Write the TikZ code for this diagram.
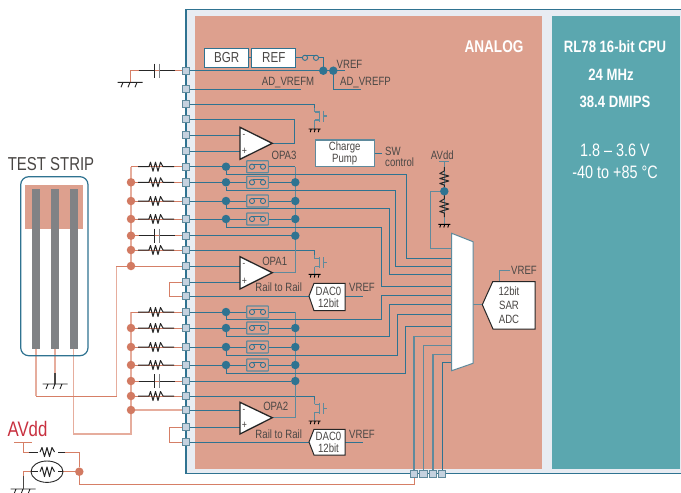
\documentclass[tikz,border=0pt]{standalone}
\usepackage{fontspec}
\setmainfont[FakeStretch=0.8]{Liberation Sans}
\pgfdeclarelayer{bg}\pgfdeclarelayer{wires}
\pgfsetlayers{bg,wires,main}
\definecolor{teal}{HTML}{2F7391}
\definecolor{grayteal}{HTML}{5F8A9C}
\definecolor{analog}{HTML}{DDA08E}
\definecolor{cpu}{HTML}{5BA7AF}
\definecolor{band}{HTML}{E8ECF2}
\definecolor{pinfill}{HTML}{C5D2DF}
\definecolor{redw}{HTML}{D67F66}
\definecolor{redp}{HTML}{E6AD9D}
\definecolor{junc}{HTML}{D27A62}
\definecolor{txt}{HTML}{4A4745}
\definecolor{avdd}{HTML}{C8303F}
\definecolor{bargray}{HTML}{808285}
\newcommand{\fs}[1]{\fontsize{#1}{#1}\selectfont}
\tikzset{
  wire/.style={draw=teal,line width=0.9pt},
  gwire/.style={draw=grayteal,line width=1.1pt},
  rwire/.style={draw=redw,line width=0.9pt},
  pwire/.style={draw=redp,line width=1.3pt},
  pinbox/.style={rectangle,draw=grayteal,fill=pinfill,line width=0.9pt,minimum size=7.5pt,inner sep=0pt},
  jteal/.style={circle,fill=teal,minimum size=8.5pt,inner sep=0pt},
  jred/.style={circle,fill=junc,minimum size=8.5pt,inner sep=0pt},
  lab/.style={text=txt,font=\fs{12},inner sep=0pt},
  labw/.style={text=white,font=\fs{16.4}\bfseries,inner sep=0pt},
  labn/.style={text=white,font=\fs{18},inner sep=0pt},
  whitebox/.style={rectangle,draw=teal,fill=white,line width=1pt,inner sep=0pt},
  part/.style={draw=black!85,line width=1pt,line join=round},
  resH/.pic={\draw[part] (-18,0)--(-7,0)--(-5.5,-4.5)--(-3,4.5)--(-.5,-4.5)--(2,4.5)--(4.5,-4.5)--(7,0)--(18,0);},
  resV/.pic={\draw[part,rotate=90] (-11,0)--(-7,0)--(-5.5,-4.5)--(-3,4.5)--(-.5,-4.5)--(2,4.5)--(4.5,-4.5)--(7,0)--(11,0);},
  capH/.pic={\draw[part] (-18,0)--(-2.5,0) (2.5,0)--(18,0);
     \draw[draw=black!85,line width=1pt] (-2.5,-7)--(-2.5,7);
     \draw[draw=bargray,line width=1pt] (2.5,-7)--(2.5,7);},
  swbox/.pic={\draw[gwire,fill=analog,rounded corners=.5pt] (-10.8,-6)rectangle(10.8,6);
     \draw[wire] (-5.5,0) circle(2.6) (5.5,0) circle(2.6);
     \draw[wire] (-5,-2.6)--(6,-2.6);},
  capV/.pic={\draw[gwire] (0,-4)--(4.5,-4) (0,4)--(4.5,4) (0,-4)--(0,-8) (0,4)--(0,13);
     \draw[gwire] (4.5,-5.5)--(4.5,5.5) (8.5,-5.5)--(8.5,5.5) (8.5,0)--(12.5,0);},
  gndS/.pic={\draw[draw=black,line width=.9pt] (-6,0)--(6,0) (-4.5,3.2)--(-3.5,0) (-.5,3.2)--(.5,0) (3.5,3.2)--(4.5,0);},
  gndL/.pic={\draw[draw=black!85,line width=.9pt] (-12.5,0)--(12.5,0) (-9,5)--(-7,0) (-2,5)--(0,0) (5,5)--(7,0);},
}
\begin{document}
\begin{tikzpicture}[x=1pt,y=-1pt]
\useasboundingbox (0,0) rectangle (681,493);
\begin{pgfonlayer}{bg}
  \fill[white] (0,0) rectangle (681,493);
  \fill[band] (186,9.5) rectangle (681,473.7);
  \draw[teal,line width=1.4pt] (681,9.5) -- (186,9.5) -- (186,473.7) -- (681,473.7);
  \fill[analog] (195,16) rectangle (542,469);
  \fill[cpu] (552,16) rectangle (680,469);
\end{pgfonlayer}

% pins
\foreach \i/\y in {1/70.7,2/89,3/104,4/119,5/135,6/151,7/166.7,8/182.3,9/201,10/219,11/235.7,12/250,13/266,14/282,15/296,16/312,17/328,18/347,19/365,20/381,21/396,22/410,23/427,24/442}
  \node[pinbox] (p\i) at (186,\y) {};
\foreach \i/\x in {1/414,2/423.3,3/433,4/442}
  \node[pinbox] (b\i) at (\x,474) {};

% junctions: sensor side, analog column, output bus
\foreach \i/\y in {8/182.3,9/201,10/219,11/235.7,12/250,13/266,17/328,18/347,19/365,20/381,21/396,22/410}
  \node[jred] (l\i) at (131,\y) {};
\foreach \i/\y in {7/166.7,8/182.3,9/201,10/219,16/312,17/328,18/347,19/365}
  \node[jteal] (a\i) at (226,\y) {};
\foreach \i/\y in {8/182.3,9/201,10/219,11/235.7,17/328,18/347,19/365,20/381}
  \node[jteal] (r\i) at (295.3,\y) {};
\coordinate (r7) at (295.3,166.7);
\coordinate (r16) at (295.3,312);
\coordinate (l7) at (131,166.7);
\coordinate (l16) at (131,312);

% Blocks
\node[whitebox,minimum width=44.7pt,minimum height=19pt,font=\fs{14.5},text=txt] (bgr) at (226.6,57.8) {BGR};
\node[whitebox,minimum width=44.3pt,minimum height=19pt,font=\fs{14.5},text=txt] (ref) at (273.8,57.8) {REF};
\node[rectangle,draw=grayteal,fill=white,line width=1.1pt,minimum width=58.7pt,minimum height=26.7pt,inner sep=0pt,align=center,text=txt,font=\fs{12}] (pump) at (344.7,153.3) {Charge\\[0pt]Pump};

% op amps
\coordinate (o3m) at (240,135); \coordinate (o3p) at (240,151); \coordinate (o3o) at (272.3,143.3);
\coordinate (o1m) at (240,266); \coordinate (o1p) at (240,282); \coordinate (o1o) at (272.3,272.7);
\coordinate (o2m) at (240,410); \coordinate (o2p) at (240,427); \coordinate (o2o) at (272.3,417.7);
\filldraw[fill=white,draw=black!85,line width=1.3pt,line join=miter] (240,127.3)--(o3o)--(240,159.3)--cycle;
\filldraw[fill=white,draw=black!85,line width=1.3pt] (240,256.7)--(o1o)--(240,289)--cycle;
\filldraw[fill=white,draw=black!85,line width=1.3pt] (240,402.3)--(o2o)--(240,434)--cycle;
\foreach \ym/\yp in {136/151,265/281,410.5/425.5}{
  \node[text=txt,font=\fs{10},inner sep=0pt] at (244,\ym) {-};
  \node[text=txt,font=\fs{11},inner sep=0pt] at (244.5,\yp) {+};
}

% DACs, mux, ADC
\filldraw[fill=white,draw=black!85,line width=1pt] (309,296)--(314,283.3)--(345,283.3)--(345,310.7)--(314,310.7)--cycle;
\filldraw[fill=white,draw=black!85,line width=1pt] (309,442)--(314,429.3)--(345,429.3)--(345,455)--(314,455)--cycle;
\node[lab,align=center] at (328.5,297) {DAC0\\[0pt]12bit};
\node[lab,align=center] at (328.5,442.3) {DAC0\\[0pt]12bit};
\coordinate (dac1) at (309,296); \coordinate (dac1r) at (345,296);
\coordinate (dac2) at (309,442); \coordinate (dac2r) at (345,442);
\filldraw[fill=white,draw=grayteal,line width=1pt] (451.7,233.3)--(473,241.7)--(473,363.3)--(451.7,370.7)--cycle;
\filldraw[fill=white,draw=black!85,line width=1pt] (482.3,304.7)--(492.7,281.7)--(535,281.7)--(535,329)--(493,329)--cycle;
\node[lab,align=center] at (509,305.5) {12bit\\[2pt]SAR\\[2pt]ADC};
\coordinate (adct) at (482.3,304.7); \coordinate (muxo) at (473,304.7); \coordinate (adcv) at (499.3,281.7);

% test strip
\draw[teal,line width=1.2pt,rounded corners=8pt] (20.7,176.7) rectangle (88,355.7);
\fill[analog] (25,185) rectangle (83,229);
\fill[bargray] (32,189) rectangle (40,348.7);
\fill[bargray] (51,189) rectangle (59,348.7);
\fill[bargray] (70,189) rectangle (78,348.7);
\coordinate (s1) at (36,348.7); \coordinate (s2) at (55,348.7); \coordinate (s3) at (73.5,348.7);

\node[jred] (lav) at (79.3,471.7) {};

\begin{pgfonlayer}{wires}
  % pin wiring to op amps etc
  \foreach \a/\b in {p5/o3m,p6/o3p,p13/o1m,p14/o1p,p22/o2m,p23/o2p,p15/dac1,p24/dac2}
    \draw[wire] (\a) -- (\b);
  \draw[wire] (p1) -- (333.3,70.7) -- (345,70.7);
  \draw[wire] (p2) -- (300.7,89);
  \draw[wire] (333.3,70.7) |- (360.7,89.3);
  \draw[wire] (bgr) -- (ref);
  \draw[wire] (ref.east) -- (302.4,57.8);
  \draw[wire] (318.6,57.8) -| (323.3,70.7);
  \draw[wire] (p3) -| (314.7,108);
  \draw[wire] (p12) -| (314.7,254.7);
  \draw[wire] (p21) -| (314.7,400.3);
  \draw[wire] (o3o) -| (294.7,119) -- (p4);
  \draw[wire] (pump.east) -- (381.7,153.3);
  \foreach \i in {8,9,10,16,17,18,19,7} \draw[wire] (p\i) -- (a\i);
  \foreach \i in {7,8,9,10,16,17,18,19} \draw[wire] (a\i) -- (r\i);
  \draw[wire] (p11) -- (r11);
  \draw[wire] (p20) -- (r20);
  \draw[gwire] (o1o) -| (r7);
  \draw[gwire] (o2o) -| (r16);
  % inputs to the mux
  \foreach \n/\y in {1/248.7,2/258.7,3/266.3,4/274.3,5/286,6/295.3,7/304.7,8/314.3,9/326.7,10/336.7,11/345.7,12/354.3,13/362.3}
    \coordinate (m\n) at (451.7,\y);
  \draw[wire] (a7) |- (406,174.5) |- (m2);
  \draw[wire] (a8) |- (395.3,190.5) |- (m3);
  \draw[wire] (a9) |- (389.3,208.7) |- (m4);
  \draw[wire] (a10) |- (381.3,227.3) |- (m5);
  \draw[wire] (a16) |- (381.7,319.3) |- (m6);
  \draw[wire] (a17) |- (389.3,336.7) |- (m7);
  \draw[wire] (a18) |- (397.3,355) |- (m8);
  \draw[wire] (a19) |- (405.7,373.3) |- (m9);
  \draw[gwire] (b1) |- (m10);
  \draw[gwire] (b2) |- (m11);
  \draw[gwire] (b3) |- (m12);
  \draw[wire] (b4) |- (m13);
  \draw[gwire] (muxo) -- (adct);
  \draw[gwire] (adcv) -- (499.3,270.3) -- (510,270.3);
  \draw[wire] (dac1r) -- (362.7,296);
  \draw[wire] (dac2r) -- (362.7,442);
  % AVdd divider
  \draw[gwire] (439.3,161.7) -- (449.3,161.7) (444.3,161.7) -- (444.3,224.3);
  \draw[gwire] (444,191.3) -| (430.7,248.7) -- (m1);
  % sensor side
  \draw[pwire] (l7) -- (l13);
  \draw[pwire] (l16) -- (131,434) -| (s3);
  \foreach \i in {7,8,9,10,11,12,16,17,18,19,20,21} \draw[rwire] (l\i) -- (p\i);
  \draw[rwire] (l13) -- (p13);
  \draw[pwire] (l22) -- (p22);
  \draw[rwire] (l13) -- (116.7,266) -- (116.7,396) -- (36,396);
  \draw[pwire] (s1) -- (36,396);
  \draw[pwire] (116.7,266.7) -- (116.7,396);
  \draw[pwire] (s2) -- (55,373);
  \draw[draw=txt,line width=1.2pt] (55,373) -- (55,384);
  \draw[rwire] (p1) -- (130,70.7) -- (130,82.3);
  \draw[rwire] (p14) -- (169.3,282) |- (p15);
  \draw[rwire] (p23) -- (169.3,427) |- (p24);
  \draw[rwire] (lav) -- (79.3,484.3) -| (b1);
  \draw[rwire] (23,442.3) |- (79.3,452) -- (lav);
  \draw[rwire] (lav) -- (23,471.7) -- (23,482);
  \draw[rwire] (14,442.3) -- (32,442.3);
\end{pgfonlayer}

% parts on the wires
\foreach \y in {166.7,182.3,201,219,250,312,328,347,365,396} \pic at (156,\y) {resH};
\foreach \y in {70.7,235.7,381} \pic at (156.5,\y) {capH};
\foreach \y in {166.7,182.3,201,219,312,328,347,365} \pic at (257.5,\y) {swbox};
\draw[wire,fill=analog] (305,57.8) circle(2.6) (316,57.8) circle(2.6);
\draw[wire] (305.5,55.2) -- (316.5,55.2);
\foreach \y in {116,262.7,408.3} \pic at (314.7,\y) {capV};
\foreach \y in {129,274.3,421} \pic at (314.7,\y) {gndS};
\pic at (444.3,224.3) {gndS};
\pic at (444.3,178) {resV};
\pic at (444.3,206) {resV};
\node[jteal] (avj) at (444.3,191.3) {};
\node[jteal] (v1) at (323.3,70.7) {};
\node[jteal] (v2) at (333.3,70.7) {};
\pic at (130,82.3) {gndL};
\pic at (55,384) {gndL};
\pic at (23,489) {gndL};
\draw[part] (29.3,452) -- (65,452);
\fill[white] (38,447) rectangle (58,457);
\draw[part] (40,452)--(42,447.5)--(44.5,456.5)--(47,447.5)--(49.5,456.5)--(52,447.5)--(54.5,452);
\draw[part] (31,471.7) -- (63,471.7);
\fill[white] (38,466) rectangle (58,477);
\draw[part] (40,471.7)--(42,467)--(44.5,476.5)--(47,467)--(49.5,476.5)--(52,467)--(54.5,471.7);
\draw[draw=black!85,line width=.9pt] (47,471.7) ellipse (16 and 10.7);
\draw[draw=txt,line width=1pt] (23,476) -- (23,489);

% texts
\node[lab] at (288,83) {AD\_VREFM};
\node[lab] at (365.5,83) {AD\_VREFP};
\node[lab] at (349.5,64) {VREF};
\node[lab] at (284,155) {OPA3};
\node[lab] at (274.7,261) {OPA1};
\node[lab] at (275.7,406.7) {OPA2};
\node[lab] at (278.7,287.7) {Rail to Rail};
\node[lab] at (278.7,434) {Rail to Rail};
\node[lab,anchor=west] at (385,151) {SW};
\node[lab,anchor=west] at (385,162) {control};
\node[lab] at (442.3,155) {AVdd};
\node[lab] at (362,287.7) {VREF};
\node[lab] at (362,434) {VREF};
\node[lab] at (524,270.3) {VREF};
\node[text=white,font=\fs{17}\bfseries,inner sep=0pt] at (494,47) {ANALOG};
\node[labw] at (615,47) {RL78 16-bit CPU};
\node[labw] at (611,74.5) {24 MHz};
\node[labw] at (615,102) {38.4 DMIPS};
\node[labn] at (615,150) {1.8 -- 3.6 V};
\node[labn] at (615,172.5) {-40 to +85 °C};
\node[text=txt,font=\fs{18.7},inner sep=0pt] at (51,164) {TEST STRIP};
\node[text=avdd,font=\fs{21},inner sep=0pt] at (27.5,429) {AVdd};
\end{tikzpicture}
\end{document}
